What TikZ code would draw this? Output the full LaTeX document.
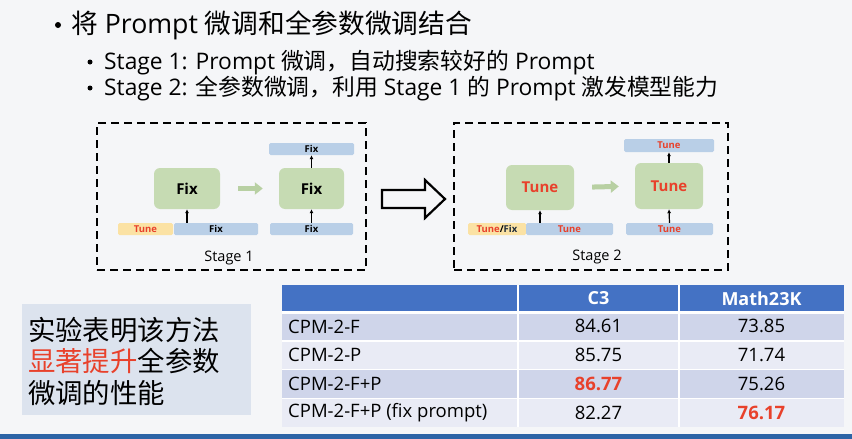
\documentclass[tikz,border=0pt]{standalone}
\usepackage{fontspec}
\setmainfont{Open Sans}
\newfontfamily\cjk{Noto Sans CJK SC}
\usetikzlibrary{arrows.meta}

\definecolor{bgcol}{HTML}{F5F6F8}
\definecolor{coregreen}{HTML}{C6DBB3}
\definecolor{flowgreen}{HTML}{B8D0A3}
\definecolor{barblue}{HTML}{B9CFE7}
\definecolor{baryellow}{HTML}{FBE2A4}
\definecolor{tunered}{HTML}{E8412B}
\definecolor{fixdark}{HTML}{1E2B3A}
\definecolor{headblue}{HTML}{4472C4}
\definecolor{rowdark}{HTML}{CFD5EA}
\definecolor{rowlight}{HTML}{E9EBF5}
\definecolor{notefill}{HTML}{DCE3EE}
\definecolor{deepblue}{HTML}{2C64A6}

\newcommand{\hot}[1]{\textcolor{tunered}{\textbf{#1}}}

\begin{document}
\begin{tikzpicture}[x=1pt,y=-1pt,
  every node/.style={inner sep=0pt},
  dashbox/.style={draw, line width=2pt, dash pattern=on 8pt off 5pt},
  core/.style={fill=coregreen, rounded corners=6pt, font=\fontsize{15}{15}\selectfont\bfseries},
  bluebar/.style={fill=barblue, rounded corners=1.5pt, minimum height=12pt, font=\fontsize{9.5}{9.5}\selectfont\bfseries},
  yellowbar/.style={bluebar, fill=baryellow},
  uparrow/.style={-{Latex[length=4pt,width=4pt]}, line width=1.2pt},
  flow/.style={draw=flowgreen, line width=5pt, -{Triangle[length=8pt,width=12pt]}},
  stagelabel/.style={font=\fontsize{14.5}{14.5}\selectfont},
  celltxt/.style={font=\fontsize{18.5}{18.5}\selectfont},
  headtxt/.style={font=\fontsize{18}{18}\selectfont\bfseries, text=white},
  dot/.style={circle, fill=black, minimum size=#1},
]
\useasboundingbox (0,0) rectangle (852,439);
\fill[bgcol] (0,0) rectangle (852,439);
\fill[deepblue] (0,434) rectangle (852,439);

% bullet lines
\node[dot=6pt] (bzero) at (58,25) {};
\node[anchor=west, font=\fontsize{26.7}{26.7}\selectfont] (tzero) at (71,25) {{\cjk 将} Prompt {\cjk 微调和全参数微调结合}};
\node[dot=5pt] (bone) at (90,62) {};
\node[anchor=west, font=\fontsize{22.8}{22.8}\selectfont] (tone) at (104,63) {Stage 1: Prompt {\cjk 微调，自动搜索较好的} Prompt};
\node[dot=5pt] (btwo) at (90,88) {};
\node[anchor=west, font=\fontsize{22.8}{22.8}\selectfont] (ttwo) at (104,89) {Stage 2: {\cjk 全参数微调，利用} Stage 1 {\cjk 的} Prompt {\cjk 激发模型能力}};

% stage 1
\node[dashbox, minimum width=269pt, minimum height=147pt] (stageone) at (231.5,196.5) {};
\node[core, minimum width=66pt, minimum height=41pt] (boxa) at (187,188.5) {Fix};
\node[core, minimum width=65pt, minimum height=41pt] (boxb) at (311.5,188.5) {Fix};
\node[bluebar, minimum width=85pt] (topfix) at (311.5,149) {Fix};
\node[yellowbar, minimum width=55pt, text=tunered] (tunea) at (145.5,229) {Tune};
\node[bluebar, minimum width=84pt] (fixa) at (216,229) {Fix};
\node[bluebar, minimum width=83pt] (fixb) at (311.5,229) {Fix};
\draw[uparrow] (fixa.north -| boxa.south) -- (boxa.south);
\draw[uparrow] (fixb.north) -- (boxb.south);
\draw[uparrow] (boxb.north) -- (topfix.south);
\draw[flow, shorten <=18pt, shorten >=16pt] (boxa.east) -- (boxb.west);
\node[stagelabel] (labone) at (229,258) {Stage 1};

% hollow arrow between stages
\draw[line width=2.2pt, line join=miter] (382,190) -- (425,190) -- (425,180) -- (445,199)
  -- (425,218) -- (425,208) -- (382,208) -- cycle;

% stage 2
\node[dashbox, minimum width=274pt, minimum height=147pt] (stagetwo) at (591,196.5) {};
\node[core, minimum width=68pt, minimum height=45pt, text=tunered] (boxc) at (540,187.5) {Tune};
\node[core, minimum width=68pt, minimum height=46pt, text=tunered] (boxd) at (669,186) {Tune};
\node[bluebar, minimum width=90pt, minimum height=13pt, text=tunered] (toptune) at (669,145.5) {Tune};
\node[yellowbar, minimum width=58pt] (tunefix) at (497,229) {\textcolor{tunered}{Tune}/\textcolor{fixdark}{Fix}};
\node[bluebar, minimum width=87pt, text=tunered] (tunec) at (569.5,229) {Tune};
\node[bluebar, minimum width=87pt, text=tunered] (tuned) at (669.5,229) {Tune};
\draw[uparrow] (tunec.north -| boxc.south) -- (boxc.south);
\draw[uparrow] (tuned.north) -- (boxd.south);
\draw[uparrow] (boxd.north) -- (toptune.south);
\draw[flow, shorten <=18pt, shorten >=16pt] (boxc.east) -- (boxd.west);
\node[stagelabel] (labtwo) at (597,257) {Stage 2};

% note box
\node[fill=notefill, anchor=north west, minimum width=229pt, minimum height=111pt] (note) at (22,304) {};
\node[anchor=west, align=left, font=\cjk\fontsize{27.4}{31.5}\selectfont] (notetext) at (28,361.5)
  {实验表明该方法\\\textcolor{tunered}{显著提升}全参数\\微调的性能};

% table
\fill[headblue] (282,285) rectangle (844,312);
\foreach \r/\c in {0/rowdark,1/rowlight,2/rowdark,3/rowlight}
  \fill[\c] (282,{312+\r*28.75}) rectangle (844,{340.75+\r*28.75});
\draw[white, line width=1.5pt] (518,285) -- (518,427) (679,285) -- (679,427);
\draw[white, line width=3pt] (282,312) -- (844,312);
\foreach \r in {1,2,3}
  \draw[white, line width=1.5pt] (282,{312+\r*28.75}) -- (844,{312+\r*28.75});
\node[headtxt] (hcthree) at (598.5,298.5) {C3};
\node[headtxt] (hmath) at (761.5,298.5) {Math23K};
\foreach \r/\name/\ca/\cb in {1/CPM-2-F/84.61/73.85, 2/CPM-2-P/85.75/71.74,
    3/CPM-2-F+P/{\hot{86.77}}/75.26, 4/CPM-2-F+P (fix prompt)/82.27/{\hot{76.17}}} {
  \node[celltxt, anchor=west] (row\r) at (288,{326.4+(\r-1)*28.75}) {\name};
  \node[celltxt] (ca\r) at (598.5,{326.4+(\r-1)*28.75}) {\ca};
  \node[celltxt] (cb\r) at (761.5,{326.4+(\r-1)*28.75}) {\cb};
}
\end{tikzpicture}
\end{document}
